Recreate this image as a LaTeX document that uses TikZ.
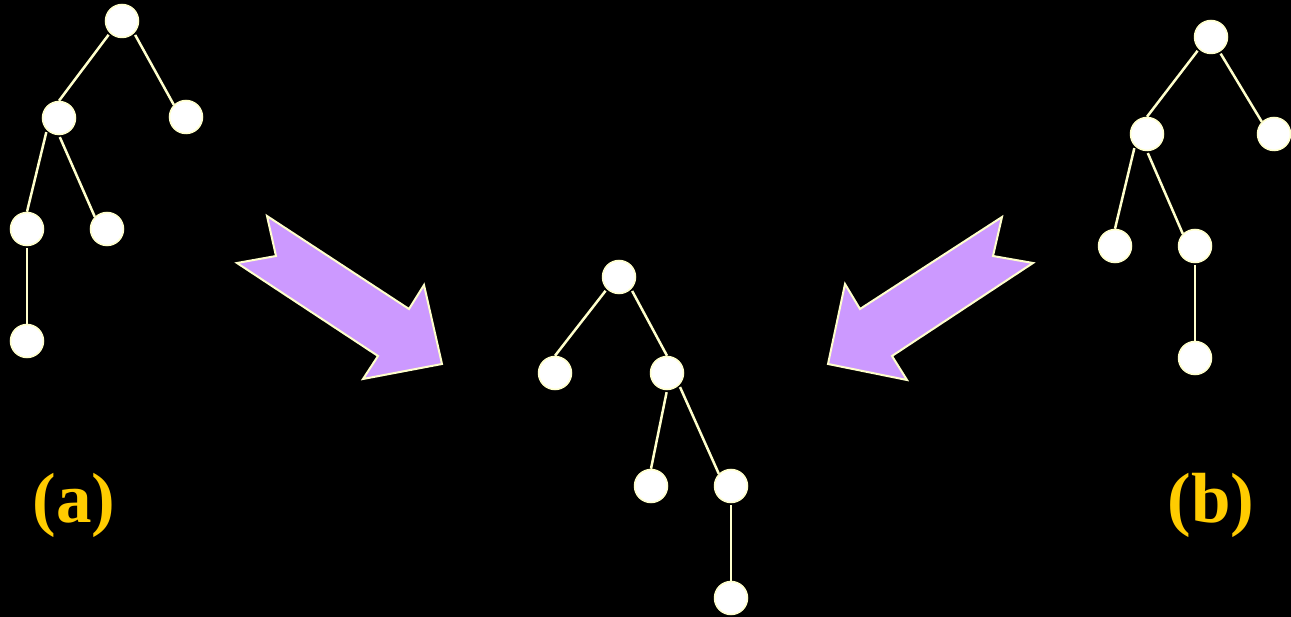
\documentclass[tikz,border=0pt]{standalone}
\usepackage{fontspec}
\setmainfont{Liberation Serif}
\begin{document}
\definecolor{pale}{HTML}{FFFFCC}
\definecolor{lilac}{HTML}{CC99FF}
\definecolor{gold}{HTML}{FFCC00}
\begin{tikzpicture}[x=1pt,y=-1pt,
  vertex/.style={circle,draw=pale,fill=white,line width=1.5pt,minimum size=33pt,inner sep=0pt},
  link/.style={draw=pale,line width=2.5pt,shorten <=2pt},
  bigarrow/.style={fill=lilac,draw=pale,line width=2pt,line join=miter},
  caption/.style={text=gold,font=\fontsize{71}{71}\selectfont\bfseries,anchor=base,inner sep=0pt}]
\fill[black] (0,0) rectangle (1291,617);
\useasboundingbox (0,0) rectangle (1291,617);

% left tree (a)
\node[vertex] (a0) at (122,21) {};
\node[vertex] (a1) at (59,118) {};
\node[vertex] (a2) at (186,117) {};
\node[vertex] (a3) at (27,229) {};
\node[vertex] (a4) at (107,229) {};
\node[vertex] (a5) at (27,341) {};
\draw[link] (a0.225) -- (a1.north);
\draw[link] (a0.315) -- (a2.135);
\draw[link] (a1.225) -- (a3.north);
\draw[link] (a1.south) -- (a4.135);
\draw[link] (a3.south) -- (a5.north);

% middle tree
\node[vertex] (m0) at (619,277) {};
\node[vertex] (m1) at (555,373) {};
\node[vertex] (m2) at (667,373) {};
\node[vertex] (m3) at (651,486) {};
\node[vertex] (m4) at (731,486) {};
\node[vertex] (m5) at (731,598) {};
\draw[link] (m0.225) -- (m1.north);
\draw[link] (m0.315) -- (m2.north);
\draw[link] (m2.south) -- (m3.north);
\draw[link] (m2.315) -- (m4.135);
\draw[link] (m4.south) -- (m5.north);

% right tree (b)
\node[vertex] (b0) at (1211,37) {};
\node[vertex] (b1) at (1147,134) {};
\node[vertex] (b2) at (1274,134) {};
\node[vertex] (b3) at (1115,246) {};
\node[vertex] (b4) at (1195,246) {};
\node[vertex] (b5) at (1195,358) {};
\draw[link] (b0.225) -- (b1.north);
\draw[link] (b0.300) -- (b2.135);
\draw[link] (b1.225) -- (b3.north);
\draw[link] (b1.south) -- (b4.135);
\draw[link] (b4.south) -- (b5.north);

% block arrows pointing at the middle tree
\draw[bigarrow] (267,216) -- (409,309) -- (424,285) -- (442,364) -- (363,379)
  -- (378,356) -- (237,263) -- (276,256) -- cycle;
\draw[bigarrow] (1002,217) -- (860,309) -- (845,284) -- (828,364) -- (907,380)
  -- (892,356) -- (1033,263) -- (993,256) -- cycle;

% captions
\node[caption] (la) at (74,522) {(a)};
\node[caption] (lb) at (1211,522) {(b)};
\end{tikzpicture}
\end{document}
